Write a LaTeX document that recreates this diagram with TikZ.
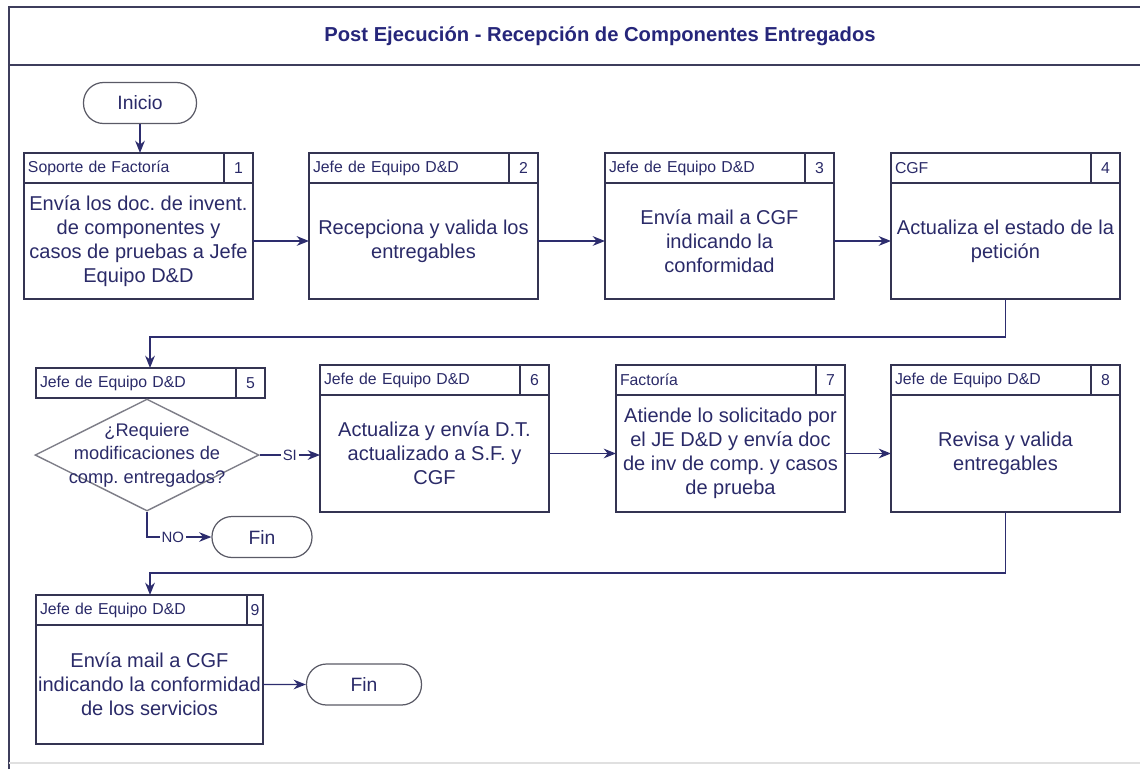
\documentclass[tikz,border=0pt]{standalone}
\usepackage{fontspec}
\setmainfont{Liberation Sans}
\frenchspacing
\usetikzlibrary{shapes.geometric,positioning,arrows.meta}
\tikzset{>={Stealth[length=7pt,width=5.5pt]}}
\definecolor{penColor}{RGB}{42,42,104}
\definecolor{titleColor}{RGB}{38,38,122}
\definecolor{boxColor}{RGB}{52,52,82}
\definecolor{arrowColor}{RGB}{45,45,110}
\definecolor{diaColor}{RGB}{125,125,135}
\definecolor{termColor}{RGB}{90,90,102}
\definecolor{frameColor}{RGB}{62,62,92}
\tikzset{
  rolecell/.style={draw=boxColor, line width=0.9pt, anchor=north west, outer sep=0pt,
    minimum height=0.6cm, inner xsep=0.08cm, text width=#1, align=left,
    font=\fontsize{9}{10}\selectfont, text=penColor},
  numcell/.style={draw=boxColor, line width=0.9pt, anchor=north west, outer sep=0pt,
    minimum height=0.6cm, minimum width=#1, inner sep=0pt,
    font=\fontsize{9}{10}\selectfont, text=penColor},
  taskbody/.style={draw=boxColor, line width=0.9pt, anchor=north west, outer sep=0pt,
    minimum height=#1, minimum width=4.58cm, inner xsep=0pt, align=center,
    font=\fontsize{11.4}{13.7}\selectfont, text=penColor},
  decision/.style={draw=diaColor, diamond, line width=0.8pt, inner sep=0pt,
    minimum width=4.48cm, minimum height=2.24cm},
  qtext/.style={align=center, font=\fontsize{10.4}{13.4}\selectfont, text=penColor},
  term/.style={draw=termColor, line width=0.7pt, rounded corners=0.4cm,
    minimum width=#1, minimum height=0.82cm, font=\fontsize{11}{12}\selectfont, text=penColor},
  flow/.style={->, draw=arrowColor, line width=0.8pt},
  lbl/.style={fill=white, inner sep=1pt, font=\fontsize{8.5}{9}\selectfont, text=penColor},
  titletext/.style={font=\fontsize{11.5}{13}\selectfont\bfseries, text=titleColor}
}

\begin{document}
\begin{tikzpicture}[x=0.02cm,y=-0.02cm]
\useasboundingbox (0,0) rectangle (1140,769);
% frame and title
\draw[frameColor, line width=0.9pt] (9,769) -- (9,7) -- (1140,7);
\draw[frameColor, line width=0.9pt] (9,65) -- (1140,65);
\draw[black!12, line width=0.6pt] (9,763) -- (1140,763);
\node[titletext] (title) at (600,36) {Post Ejecución - Recepción de Componentes Entregados};

% row 1
\node[term=2.26cm] (ini) at (140,103) {Inicio};
\node[rolecell=3.84cm] (r1) at (24,153) {Soporte de Factoría};
\node[numcell=0.58cm, right=0pt of r1] (n1) {1};
\node[taskbody=2.32cm] (t1) at (r1.south west) {Envía los doc. de invent.\\de componentes y\\casos de pruebas a Jefe\\Equipo D\&D};
\node[rolecell=3.84cm] (r2) at (309,153) {Jefe de Equipo D\&D};
\node[numcell=0.58cm, right=0pt of r2] (n2) {2};
\node[taskbody=2.32cm] (t2) at (r2.south west) {Recepciona y valida los\\entregables};
\node[rolecell=3.84cm] (r3) at (605,153) {Jefe de Equipo D\&D};
\node[numcell=0.58cm, right=0pt of r3] (n3) {3};
\node[taskbody=2.32cm] (t3) at (r3.south west) {Envía mail a CGF\\indicando la\\conformidad};
\node[rolecell=3.84cm] (r4) at (891,153) {CGF};
\node[numcell=0.58cm, right=0pt of r4] (n4) {4};
\node[taskbody=2.32cm] (t4) at (r4.south west) {Actualiza el estado de la\\petición};

\draw[flow] (ini.south) -- (ini.south |- r1.north);
\draw[flow] (t1) -- (t2);
\draw[flow] (t2) -- (t3);
\draw[flow] (t3) -- (t4);

% row 2
\node[rolecell=3.84cm] (r5) at (36,368) {Jefe de Equipo D\&D};
\node[numcell=0.58cm, right=0pt of r5] (n5) {5};
\node[decision] (d5) at (147,455) {};
\node[qtext] (q5) at (d5) {¿Requiere\\modificaciones de\\comp. entregados?};
\node[term=2cm] (fin1) at (262,537) {Fin};
\node[rolecell=3.84cm] (r6) at (320,365) {Jefe de Equipo D\&D};
\node[numcell=0.58cm, right=0pt of r6] (n6) {6};
\node[taskbody=2.34cm] (t6) at (r6.south west) {Actualiza y envía D.T.\\actualizado a S.F. y\\CGF};
\node[rolecell=3.84cm] (r7) at (616,365) {Factoría};
\node[numcell=0.58cm, right=0pt of r7] (n7) {7};
\node[taskbody=2.34cm] (t7) at (r7.south west) {Atiende lo solicitado por\\el JE D\&D y envía doc\\de inv de comp. y casos\\de prueba};
\node[rolecell=3.84cm] (r8) at (891,365) {Jefe de Equipo D\&D};
\node[numcell=0.58cm, right=0pt of r8] (n8) {8};
\node[taskbody=2.34cm] (t8) at (r8.south west) {Revisa y valida\\entregables};

\coordinate (k4) at (150,337);
\draw[flow] (t4.south) |- (k4) -- (k4 |- r5.north);
\draw[flow] (d5.east) -- node[lbl] {SI} (d5.east -| t6.west);
\draw[flow] (d5.south) |- node[lbl, pos=0.7] {NO} (fin1.west);
\draw[flow] (t6) -- (t7);
\draw[flow] (t7) -- (t8);

% row 3
\node[rolecell=4.06cm] (r9) at (36,595) {Jefe de Equipo D\&D};
\node[numcell=0.32cm, right=0pt of r9] (n9) {9};
\node[taskbody=2.38cm, minimum width=4.54cm] (t9) at (r9.south west) {Envía mail a CGF\\indicando la conformidad\\de los servicios};
\node[term=2.3cm] (fin2) at (364,684.5) {Fin};

\coordinate (k8) at (150,573);
\draw[flow] (t8.south) |- (k8) -- (k8 |- r9.north);
\draw[flow] (t9) -- (fin2);
\end{tikzpicture}
\end{document}
